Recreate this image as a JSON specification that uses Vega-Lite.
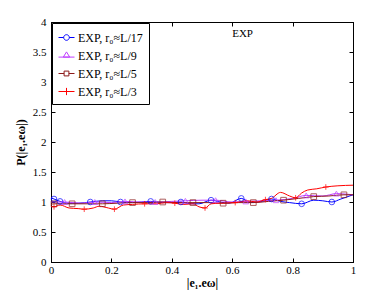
{
  "$schema": "https://vega.github.io/schema/vega-lite/v6.json",
  "width": 302,
  "height": 240,
  "autosize": "none",
  "padding": {"left": 51, "top": 22, "right": 37, "bottom": 32},
  "background": "white",
  "config": {
    "view": {"stroke": "black", "strokeWidth": 1},
    "font": "Liberation Serif",
    "axis": {
      "domainColor": "black", "tickColor": "black", "labelColor": "black", "titleColor": "black",
      "labelFont": "Liberation Serif", "titleFont": "Liberation Serif",
      "labelFontSize": 11, "titleFontSize": 12, "titleFontWeight": "bold",
      "grid": false, "tickSize": -4, "format": "~g"
    }
  },
  "datasets": {
    "curves": [
      {"series": "EXP, r₀≈L/17", "x": 0, "y": 1.07},
      {"series": "EXP, r₀≈L/17", "x": 0.01, "y": 1.05},
      {"series": "EXP, r₀≈L/17", "x": 0.03, "y": 1.01},
      {"series": "EXP, r₀≈L/17", "x": 0.06, "y": 0.98},
      {"series": "EXP, r₀≈L/17", "x": 0.09, "y": 0.98},
      {"series": "EXP, r₀≈L/17", "x": 0.13, "y": 1.0},
      {"series": "EXP, r₀≈L/17", "x": 0.17, "y": 1.02},
      {"series": "EXP, r₀≈L/17", "x": 0.2, "y": 1.02},
      {"series": "EXP, r₀≈L/17", "x": 0.23, "y": 1.0},
      {"series": "EXP, r₀≈L/17", "x": 0.27, "y": 0.99},
      {"series": "EXP, r₀≈L/17", "x": 0.3, "y": 1.0},
      {"series": "EXP, r₀≈L/17", "x": 0.33, "y": 1.01},
      {"series": "EXP, r₀≈L/17", "x": 0.37, "y": 0.99},
      {"series": "EXP, r₀≈L/17", "x": 0.4, "y": 0.99},
      {"series": "EXP, r₀≈L/17", "x": 0.43, "y": 1.0},
      {"series": "EXP, r₀≈L/17", "x": 0.46, "y": 0.97},
      {"series": "EXP, r₀≈L/17", "x": 0.49, "y": 0.97},
      {"series": "EXP, r₀≈L/17", "x": 0.53, "y": 1.03},
      {"series": "EXP, r₀≈L/17", "x": 0.56, "y": 1.0},
      {"series": "EXP, r₀≈L/17", "x": 0.59, "y": 0.98},
      {"series": "EXP, r₀≈L/17", "x": 0.63, "y": 1.06},
      {"series": "EXP, r₀≈L/17", "x": 0.66, "y": 0.99},
      {"series": "EXP, r₀≈L/17", "x": 0.7, "y": 1.01},
      {"series": "EXP, r₀≈L/17", "x": 0.73, "y": 1.05},
      {"series": "EXP, r₀≈L/17", "x": 0.76, "y": 1.01},
      {"series": "EXP, r₀≈L/17", "x": 0.79, "y": 0.99},
      {"series": "EXP, r₀≈L/17", "x": 0.83, "y": 0.97},
      {"series": "EXP, r₀≈L/17", "x": 0.87, "y": 1.03},
      {"series": "EXP, r₀≈L/17", "x": 0.9, "y": 1.02},
      {"series": "EXP, r₀≈L/17", "x": 0.93, "y": 1.0},
      {"series": "EXP, r₀≈L/17", "x": 0.96, "y": 1.05},
      {"series": "EXP, r₀≈L/17", "x": 1.0, "y": 1.12},
      {"series": "EXP, r₀≈L/9", "x": 0, "y": 1.0},
      {"series": "EXP, r₀≈L/9", "x": 0.045, "y": 1.0},
      {"series": "EXP, r₀≈L/9", "x": 0.1, "y": 0.98},
      {"series": "EXP, r₀≈L/9", "x": 0.145, "y": 1.0},
      {"series": "EXP, r₀≈L/9", "x": 0.2, "y": 0.99},
      {"series": "EXP, r₀≈L/9", "x": 0.245, "y": 1.01},
      {"series": "EXP, r₀≈L/9", "x": 0.3, "y": 1.0},
      {"series": "EXP, r₀≈L/9", "x": 0.345, "y": 1.0},
      {"series": "EXP, r₀≈L/9", "x": 0.4, "y": 1.01},
      {"series": "EXP, r₀≈L/9", "x": 0.445, "y": 1.02},
      {"series": "EXP, r₀≈L/9", "x": 0.5, "y": 1.03},
      {"series": "EXP, r₀≈L/9", "x": 0.545, "y": 1.03},
      {"series": "EXP, r₀≈L/9", "x": 0.6, "y": 1.0},
      {"series": "EXP, r₀≈L/9", "x": 0.645, "y": 1.01},
      {"series": "EXP, r₀≈L/9", "x": 0.7, "y": 1.02},
      {"series": "EXP, r₀≈L/9", "x": 0.745, "y": 1.03},
      {"series": "EXP, r₀≈L/9", "x": 0.8, "y": 1.06},
      {"series": "EXP, r₀≈L/9", "x": 0.845, "y": 1.11},
      {"series": "EXP, r₀≈L/9", "x": 0.9, "y": 1.1},
      {"series": "EXP, r₀≈L/9", "x": 0.945, "y": 1.14},
      {"series": "EXP, r₀≈L/9", "x": 1.0, "y": 1.12},
      {"series": "EXP, r₀≈L/5", "x": 0, "y": 0.96},
      {"series": "EXP, r₀≈L/5", "x": 0.01, "y": 0.97},
      {"series": "EXP, r₀≈L/5", "x": 0.07, "y": 0.97},
      {"series": "EXP, r₀≈L/5", "x": 0.12, "y": 0.97},
      {"series": "EXP, r₀≈L/5", "x": 0.17, "y": 0.97},
      {"series": "EXP, r₀≈L/5", "x": 0.22, "y": 0.98},
      {"series": "EXP, r₀≈L/5", "x": 0.27, "y": 0.99},
      {"series": "EXP, r₀≈L/5", "x": 0.32, "y": 0.99},
      {"series": "EXP, r₀≈L/5", "x": 0.37, "y": 1.0},
      {"series": "EXP, r₀≈L/5", "x": 0.42, "y": 0.99},
      {"series": "EXP, r₀≈L/5", "x": 0.47, "y": 0.99},
      {"series": "EXP, r₀≈L/5", "x": 0.52, "y": 0.99},
      {"series": "EXP, r₀≈L/5", "x": 0.57, "y": 0.98},
      {"series": "EXP, r₀≈L/5", "x": 0.62, "y": 0.99},
      {"series": "EXP, r₀≈L/5", "x": 0.67, "y": 0.99},
      {"series": "EXP, r₀≈L/5", "x": 0.72, "y": 1.01},
      {"series": "EXP, r₀≈L/5", "x": 0.77, "y": 1.03},
      {"series": "EXP, r₀≈L/5", "x": 0.82, "y": 1.06},
      {"series": "EXP, r₀≈L/5", "x": 0.87, "y": 1.09},
      {"series": "EXP, r₀≈L/5", "x": 0.92, "y": 1.1},
      {"series": "EXP, r₀≈L/5", "x": 0.97, "y": 1.12},
      {"series": "EXP, r₀≈L/5", "x": 1.0, "y": 1.12},
      {"series": "EXP, r₀≈L/3", "x": 0, "y": 0.93},
      {"series": "EXP, r₀≈L/3", "x": 0.01, "y": 0.92},
      {"series": "EXP, r₀≈L/3", "x": 0.03, "y": 0.95},
      {"series": "EXP, r₀≈L/3", "x": 0.06, "y": 0.9},
      {"series": "EXP, r₀≈L/3", "x": 0.09, "y": 0.89},
      {"series": "EXP, r₀≈L/3", "x": 0.11, "y": 0.88},
      {"series": "EXP, r₀≈L/3", "x": 0.14, "y": 0.9},
      {"series": "EXP, r₀≈L/3", "x": 0.16, "y": 0.93},
      {"series": "EXP, r₀≈L/3", "x": 0.19, "y": 0.9},
      {"series": "EXP, r₀≈L/3", "x": 0.21, "y": 0.88},
      {"series": "EXP, r₀≈L/3", "x": 0.24, "y": 0.95},
      {"series": "EXP, r₀≈L/3", "x": 0.27, "y": 0.96},
      {"series": "EXP, r₀≈L/3", "x": 0.31, "y": 0.97},
      {"series": "EXP, r₀≈L/3", "x": 0.35, "y": 0.97},
      {"series": "EXP, r₀≈L/3", "x": 0.38, "y": 0.99},
      {"series": "EXP, r₀≈L/3", "x": 0.41, "y": 0.98},
      {"series": "EXP, r₀≈L/3", "x": 0.44, "y": 0.96},
      {"series": "EXP, r₀≈L/3", "x": 0.47, "y": 0.97},
      {"series": "EXP, r₀≈L/3", "x": 0.49, "y": 0.92},
      {"series": "EXP, r₀≈L/3", "x": 0.51, "y": 0.9},
      {"series": "EXP, r₀≈L/3", "x": 0.53, "y": 0.97},
      {"series": "EXP, r₀≈L/3", "x": 0.56, "y": 0.98},
      {"series": "EXP, r₀≈L/3", "x": 0.61, "y": 0.99},
      {"series": "EXP, r₀≈L/3", "x": 0.65, "y": 1.02},
      {"series": "EXP, r₀≈L/3", "x": 0.68, "y": 1.0},
      {"series": "EXP, r₀≈L/3", "x": 0.71, "y": 1.04},
      {"series": "EXP, r₀≈L/3", "x": 0.73, "y": 1.06},
      {"series": "EXP, r₀≈L/3", "x": 0.76, "y": 1.16},
      {"series": "EXP, r₀≈L/3", "x": 0.79, "y": 1.1},
      {"series": "EXP, r₀≈L/3", "x": 0.81, "y": 1.07},
      {"series": "EXP, r₀≈L/3", "x": 0.83, "y": 1.15},
      {"series": "EXP, r₀≈L/3", "x": 0.85, "y": 1.2},
      {"series": "EXP, r₀≈L/3", "x": 0.88, "y": 1.22},
      {"series": "EXP, r₀≈L/3", "x": 0.91, "y": 1.25},
      {"series": "EXP, r₀≈L/3", "x": 0.95, "y": 1.27},
      {"series": "EXP, r₀≈L/3", "x": 1.0, "y": 1.28}
    ],
    "markers": [
      {"series": "EXP, r₀≈L/17", "x": 0.01, "y": 1.05},
      {"series": "EXP, r₀≈L/17", "x": 0.03, "y": 1.01},
      {"series": "EXP, r₀≈L/17", "x": 0.13, "y": 1.0},
      {"series": "EXP, r₀≈L/17", "x": 0.23, "y": 1.0},
      {"series": "EXP, r₀≈L/17", "x": 0.33, "y": 1.01},
      {"series": "EXP, r₀≈L/17", "x": 0.43, "y": 1.0},
      {"series": "EXP, r₀≈L/17", "x": 0.53, "y": 1.03},
      {"series": "EXP, r₀≈L/17", "x": 0.63, "y": 1.06},
      {"series": "EXP, r₀≈L/17", "x": 0.73, "y": 1.05},
      {"series": "EXP, r₀≈L/17", "x": 0.83, "y": 0.97},
      {"series": "EXP, r₀≈L/17", "x": 0.93, "y": 1.0},
      {"series": "EXP, r₀≈L/9", "x": 0.045, "y": 1.0},
      {"series": "EXP, r₀≈L/9", "x": 0.145, "y": 1.0},
      {"series": "EXP, r₀≈L/9", "x": 0.245, "y": 1.01},
      {"series": "EXP, r₀≈L/9", "x": 0.345, "y": 1.0},
      {"series": "EXP, r₀≈L/9", "x": 0.445, "y": 1.02},
      {"series": "EXP, r₀≈L/9", "x": 0.545, "y": 1.03},
      {"series": "EXP, r₀≈L/9", "x": 0.645, "y": 1.01},
      {"series": "EXP, r₀≈L/9", "x": 0.745, "y": 1.03},
      {"series": "EXP, r₀≈L/9", "x": 0.845, "y": 1.11},
      {"series": "EXP, r₀≈L/9", "x": 0.945, "y": 1.14},
      {"series": "EXP, r₀≈L/5", "x": 0.01, "y": 0.97},
      {"series": "EXP, r₀≈L/5", "x": 0.07, "y": 0.97},
      {"series": "EXP, r₀≈L/5", "x": 0.17, "y": 0.97},
      {"series": "EXP, r₀≈L/5", "x": 0.27, "y": 0.99},
      {"series": "EXP, r₀≈L/5", "x": 0.37, "y": 1.0},
      {"series": "EXP, r₀≈L/5", "x": 0.47, "y": 0.99},
      {"series": "EXP, r₀≈L/5", "x": 0.57, "y": 0.98},
      {"series": "EXP, r₀≈L/5", "x": 0.67, "y": 0.99},
      {"series": "EXP, r₀≈L/5", "x": 0.77, "y": 1.03},
      {"series": "EXP, r₀≈L/5", "x": 0.87, "y": 1.09},
      {"series": "EXP, r₀≈L/5", "x": 0.97, "y": 1.12},
      {"series": "EXP, r₀≈L/3", "x": 0.01, "y": 0.92},
      {"series": "EXP, r₀≈L/3", "x": 0.11, "y": 0.88},
      {"series": "EXP, r₀≈L/3", "x": 0.21, "y": 0.88},
      {"series": "EXP, r₀≈L/3", "x": 0.31, "y": 0.97},
      {"series": "EXP, r₀≈L/3", "x": 0.41, "y": 0.98},
      {"series": "EXP, r₀≈L/3", "x": 0.51, "y": 0.9},
      {"series": "EXP, r₀≈L/3", "x": 0.61, "y": 0.99},
      {"series": "EXP, r₀≈L/3", "x": 0.71, "y": 1.04},
      {"series": "EXP, r₀≈L/3", "x": 0.81, "y": 1.07},
      {"series": "EXP, r₀≈L/3", "x": 0.91, "y": 1.25}
    ],
    "note": [{"x": 0.6, "y": 3.8, "label": "EXP"}]
  },
  "layer": [
    {
      "data": {"name": "curves"},
      "mark": {"type": "line", "strokeWidth": 1, "interpolate": "monotone"},
      "encoding": {
        "x": {"field": "x", "type": "quantitative", "scale": {"domain": [0, 1], "nice": false},
              "axis": {"orient": "bottom", "title": "|e₁.eω|", "values": [0, 0.2, 0.4, 0.6, 0.8, 1], "labelPadding": 6, "titlePadding": 2, "labelFlush": false}},
        "y": {"field": "y", "type": "quantitative", "scale": {"domain": [0, 4], "nice": false},
              "axis": {"orient": "left", "title": "P(|e₁.eω|)", "values": [0, 0.5, 1, 1.5, 2, 2.5, 3, 3.5, 4], "labelPadding": 9, "titlePadding": 5}},
        "color": {"field": "series", "type": "nominal",
                  "scale": {"domain": ["EXP, r₀≈L/17", "EXP, r₀≈L/9", "EXP, r₀≈L/5", "EXP, r₀≈L/3"], "range": ["#0000ff", "#bf3fff", "#8b1a1a", "#ff0000"]},
                  "legend": null}
      }
    },
    {
      "data": {"name": "markers"},
      "mark": {"type": "point", "filled": false, "strokeWidth": 1, "size": 32},
      "encoding": {
        "x": {"field": "x", "type": "quantitative", "axis": {"orient": "top", "title": null, "labels": false, "values": [0, 0.2, 0.4, 0.6, 0.8, 1]}},
        "y": {"field": "y", "type": "quantitative", "axis": {"orient": "right", "title": null, "labels": false, "values": [0, 0.5, 1, 1.5, 2, 2.5, 3, 3.5, 4]}},
        "color": {"field": "series", "type": "nominal",
                  "scale": {"domain": ["EXP, r₀≈L/17", "EXP, r₀≈L/9", "EXP, r₀≈L/5", "EXP, r₀≈L/3"], "range": ["#0000ff", "#bf3fff", "#8b1a1a", "#ff0000"]},
                  "legend": null},
        "shape": {"field": "series", "type": "nominal",
                  "scale": {"domain": ["EXP, r₀≈L/17", "EXP, r₀≈L/9", "EXP, r₀≈L/5", "EXP, r₀≈L/3"], "range": ["circle", "triangle-up", "square", "M-1,0L1,0M0,-1L0,1"]},
                  "legend": null}
      }
    },
    {
      "data": {"name": "markers"},
      "mark": {"type": "point", "filled": false, "strokeWidth": 1, "opacity": 0},
      "encoding": {
        "x": {"field": "x", "type": "quantitative", "axis": null},
        "y": {"field": "y", "type": "quantitative", "axis": null},
        "color": {"field": "series", "type": "nominal",
                  "scale": {"domain": ["EXP, r₀≈L/17", "EXP, r₀≈L/9", "EXP, r₀≈L/5", "EXP, r₀≈L/3"], "range": ["#0000ff", "#bf3fff", "#8b1a1a", "#ff0000"]},
                  "legend": {"title": null, "orient": "top-left", "offset": 1, "padding": 6, "strokeColor": "black", "fillColor": "white",
                             "labelFont": "Liberation Serif", "labelFontSize": 12, "labelColor": "black", "symbolOpacity": 1, "symbolSize": 256,
                             "symbolStrokeWidth": 1, "rowPadding": 3, "labelOffset": 3}},
        "shape": {"field": "series", "type": "nominal",
                  "scale": {"domain": ["EXP, r₀≈L/17", "EXP, r₀≈L/9", "EXP, r₀≈L/5", "EXP, r₀≈L/3"],
                            "range": ["M-1,0L-0.35,0M0.35,0L1,0M-0.35,0A0.35,0.35 0 1,1 0.35,0A0.35,0.35 0 1,1 -0.35,0",
                                      "M-1,0.2L1,0.2M-0.4,0.2L0,-0.45L0.4,0.2Z",
                                      "M-1,0L-0.3,0M0.3,0L1,0M-0.3,-0.3L0.3,-0.3L0.3,0.3L-0.3,0.3Z",
                                      "M-1,0L1,0M0,-0.45L0,0.45"]},
                  "legend": {"title": null, "orient": "top-left", "offset": 1, "padding": 6, "strokeColor": "black", "fillColor": "white",
                             "labelFont": "Liberation Serif", "labelFontSize": 12, "labelColor": "black", "symbolOpacity": 1, "symbolSize": 256,
                             "symbolStrokeWidth": 1, "rowPadding": 3, "labelOffset": 3}}
      }
    },
    {
      "data": {"name": "note"},
      "mark": {"type": "text", "align": "left", "baseline": "middle", "font": "Liberation Serif", "fontSize": 11, "color": "black"},
      "encoding": {
        "x": {"field": "x", "type": "quantitative", "axis": null},
        "y": {"field": "y", "type": "quantitative", "axis": null},
        "text": {"field": "label"}
      }
    }
  ],
  "resolve": {"scale": {"color": "independent", "shape": "independent"}, "axis": {"x": "independent", "y": "independent"}}
}
